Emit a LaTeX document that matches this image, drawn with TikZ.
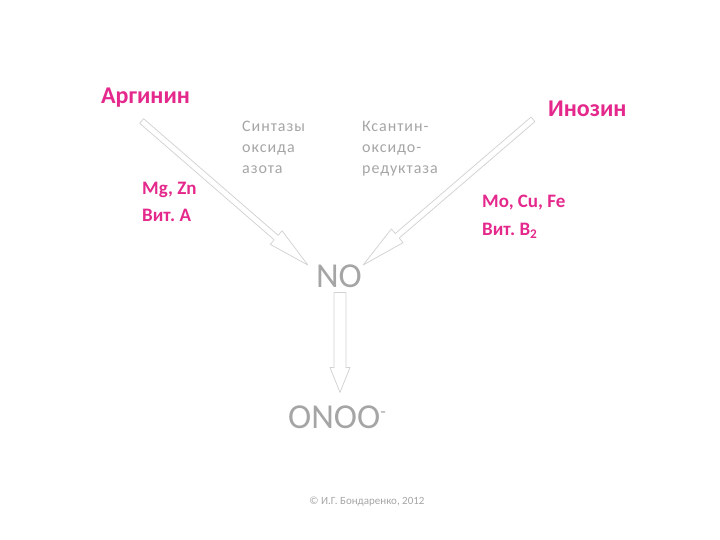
\documentclass[tikz,border=0pt]{standalone}
\usepackage{fontspec}
\setmainfont{Carlito}
\usetikzlibrary{calc}
\frenchspacing

\definecolor{pinklabel}{RGB}{228,40,140}
\definecolor{greytext}{RGB}{165,165,165}
\definecolor{greyline}{RGB}{210,210,210}

% hollow block arrow: tail, tip, half shaft, half head, head length
\newcommand{\hollowarrow}[5]{%
  \coordinate (hb) at ($(#2)!#5!(#1)$);
  \draw [color=greyline, line width=0.75, fill=white, line join=round]
    ($(#1)!#3!90:(#2)$) -- ($(hb)!#3!-90:(#1)$) -- ($(hb)!#4!-90:(#1)$) -- (#2)
    -- ($(hb)!#4!90:(#1)$) -- ($(hb)!#3!90:(#1)$) -- ($(#1)!#3!-90:(#2)$) -- cycle ;
}

\begin{document}
\begin{tikzpicture}[x=1pt,y=1pt,yscale=-1,xscale=1]
        \useasboundingbox (0,0) rectangle (720,540);

        % Text Node
        \node (arg) [anchor=base west, inner sep=0pt, text=pinklabel, font=\fontsize{24}{28}\selectfont\bfseries] at (101,104) {Аргинин};
        % Text Node
        \node (ino) [anchor=base west, inner sep=0pt, text=pinklabel, font=\fontsize{24}{28}\selectfont\bfseries] at (548,117) {Инозин};
        % Text Node
        \node (cofl) [anchor=north west, inner sep=0pt, align=left, text=pinklabel, font=\fontsize{19}{27}\selectfont\bfseries] at (142,182) {Mg, Zn\\Вит. А};
        % Text Node
        \node (cofr) [anchor=north west, inner sep=0pt, align=left, text=pinklabel, font=\fontsize{19}{28}\selectfont\bfseries] at (482,195) {Mo, Cu, Fe\\Вит. B\textsubscript{2}};
        % Text Node
        \node (nos) [anchor=north west, inner sep=0pt, align=left, text=greytext, font=\fontsize{16}{21}\selectfont\addfontfeature{LetterSpace=6}] at (242,121) {Синтазы\\оксида\\азота};
        % Text Node
        \node (xor) [anchor=north west, inner sep=0pt, align=left, text=greytext, font=\fontsize{16}{21}\selectfont\addfontfeature{LetterSpace=6}] at (362,121) {Ксантин-\\оксидо-\\редуктаза};
        % Text Node
        \node (no) [anchor=base, inner sep=0pt, text=greytext, font=\fontsize{35}{40}\selectfont] at (339,287) {NO};
        % Text Node
        \node (onoo) [anchor=base west, inner sep=0pt, text=greytext, font=\fontsize{35}{40}\selectfont] at (288,428) {ONOO\raisebox{0.3em}{\fontsize{18}{18}\selectfont -}};
        % Text Node
        \node (copy) [anchor=base, inner sep=0pt, text=greytext, font=\fontsize{11}{13}\selectfont] at (367,504) {© И.Г. Бондаренко, 2012};

        % arrow ends
        \coordinate (argtail) at ($(arg.south)+(-4,13)$);
        \coordinate (notipl) at ($(no.north west)+(-8,1)$);
        \coordinate (inotail) at ($(ino.west)+(-15,10)$);
        \coordinate (notipr) at ($(no.north east)+(1,1)$);
        \coordinate (notail) at ($(no.south)+(1,5)$);
        \coordinate (onootip) at ($(no.south)+(1,105)$);

        %Block Arrows
        \hollowarrow{argtail}{notipl}{3pt}{9pt}{42pt}
        \hollowarrow{inotail}{notipr}{3pt}{9pt}{45pt}
        \hollowarrow{notail}{onootip}{6pt}{10pt}{25pt}

\end{tikzpicture}
\end{document}
